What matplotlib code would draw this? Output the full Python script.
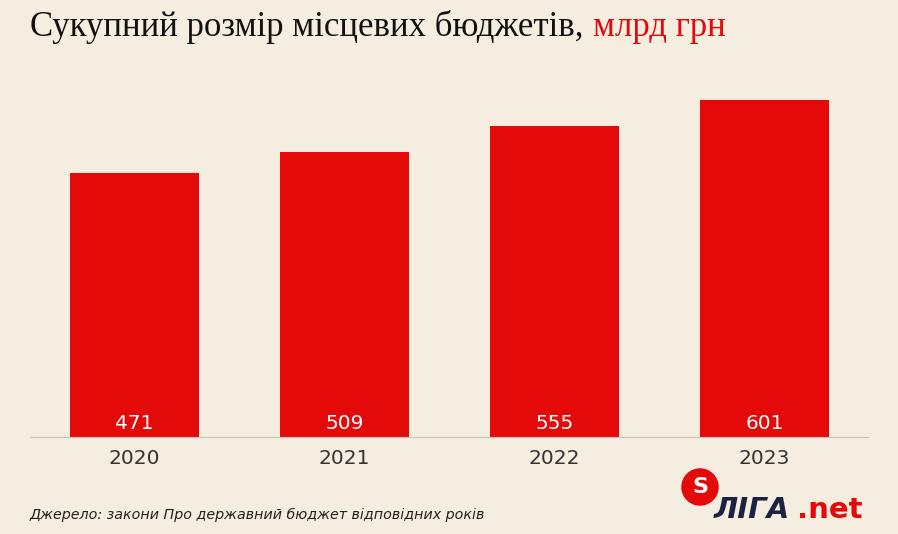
import matplotlib.pyplot as plt
from matplotlib.patches import Circle

years = ['2020', '2021', '2022', '2023']
values = [471, 509, 555, 601]

bg = '#f6ede1'
red = '#e50a0a'

W, H = 898, 534
fig = plt.figure(figsize=(W / 100, H / 100), dpi=100, facecolor=bg)
ax = fig.add_axes([30 / W, 1 - 437 / H, 838 / W, 357 / H], facecolor=bg)

x = list(range(len(years)))
ax.bar(x, values, width=0.614, color=red)
for xi, v in zip(x, values):
    ax.text(xi, 8, str(v), ha='center', va='bottom', color='white', fontsize=14.5)

ax.set_xlim(-0.498, 3.493)
ax.set_ylim(0, 637)
ax.set_yticks([])
ax.set_xticks(x)
ax.set_xticklabels(years, fontsize=14.5, color='#333333')
ax.tick_params(axis='x', length=0, pad=9)
for s in ['top', 'right', 'left']:
    ax.spines[s].set_visible(False)
ax.spines['bottom'].set_color('#c8c2ba')

fig.text(30 / W, 1 - 27 / H, 'Сукупний розмір місцевих бюджетів,', fontsize=25,
         family='Liberation Serif', va='center', color='#111111')
fig.text(593 / W, 1 - 27 / H, 'млрд грн', fontsize=25,
         family='Liberation Serif', va='center', color=red)

fig.text(30 / W, 1 - 515 / H, 'Джерело: закони Про державний бюджет відповідних років',
         fontsize=10.3, style='italic', va='center', color='#222222')

# logo
lx = fig.add_axes([681 / W, 1 - 506 / H, 38 / W, 38 / H])
lx.set_xlim(-1, 1); lx.set_ylim(-1, 1); lx.axis('off')
lx.add_patch(Circle((0, 0), 0.95, color=red))
lx.text(0, 0, 'S', color='white', ha='center', va='center', fontsize=16, weight='bold')
fig.text(714 / W, 1 - 510 / H, 'ЛІГА', fontsize=21, weight='bold', style='italic',
         color='#1c2340', va='center')
fig.text(797 / W, 1 - 510 / H, '.net', fontsize=21, weight='bold',
         color=red, va='center')

fig.savefig('out.png', dpi=100, facecolor=bg)
